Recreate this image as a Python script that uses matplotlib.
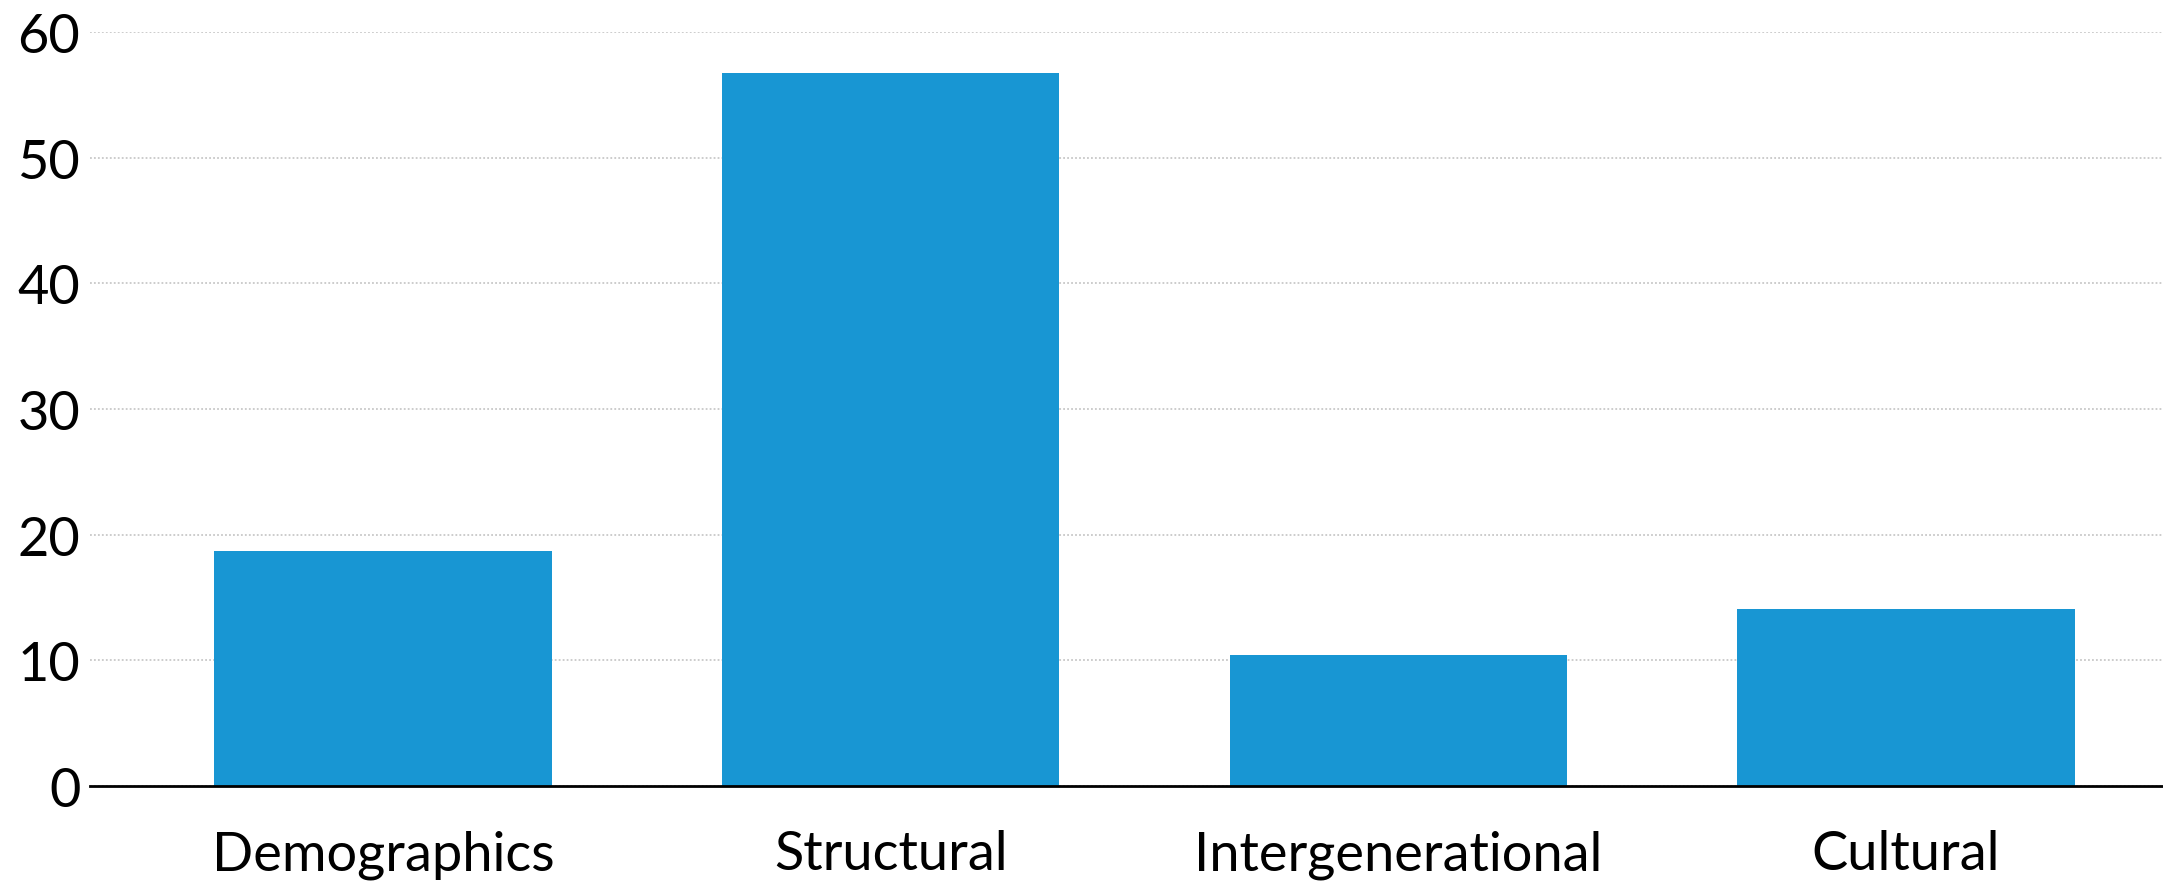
import matplotlib.pyplot as plt

categories = ['Demographics', 'Structural', 'Intergenerational', 'Cultural']
values = [18.7, 56.7, 10.4, 14.1]
yticks = [0, 10, 20, 30, 40, 50, 60]

plt.rcParams['font.family'] = ['Lato', 'DejaVu Sans']

fig = plt.figure(figsize=(21.63, 8.87), dpi=100)
ax = fig.add_axes([0.0416, 0.1125, 0.9584, 0.8505])

x = range(len(categories))
ax.bar(x, values, width=0.665, color='#1896d3', zorder=2)
# baseline sits on the axes edge, so keep it unclipped
ax.axhline(0, color='black', lw=2.0, zorder=5, clip_on=False)

ax.set_xlim(-0.577, 3.506)
ax.set_ylim(0, 60)
ax.set_yticks(yticks)
ax.set_yticklabels([str(t) for t in yticks])
ax.set_xticks(list(x))
ax.set_xticklabels(categories)
ax.tick_params(axis='both', length=0, labelsize=39, colors='black')
ax.tick_params(axis='x', pad=31)
ax.tick_params(axis='y', pad=7)

ax.yaxis.grid(True, color='#c8c8c8', linestyle=(0, (1, 1.2)), lw=1.3)
ax.set_axisbelow(True)
for s in ax.spines.values():
    s.set_visible(False)

fig.savefig('out.png', dpi=100)
